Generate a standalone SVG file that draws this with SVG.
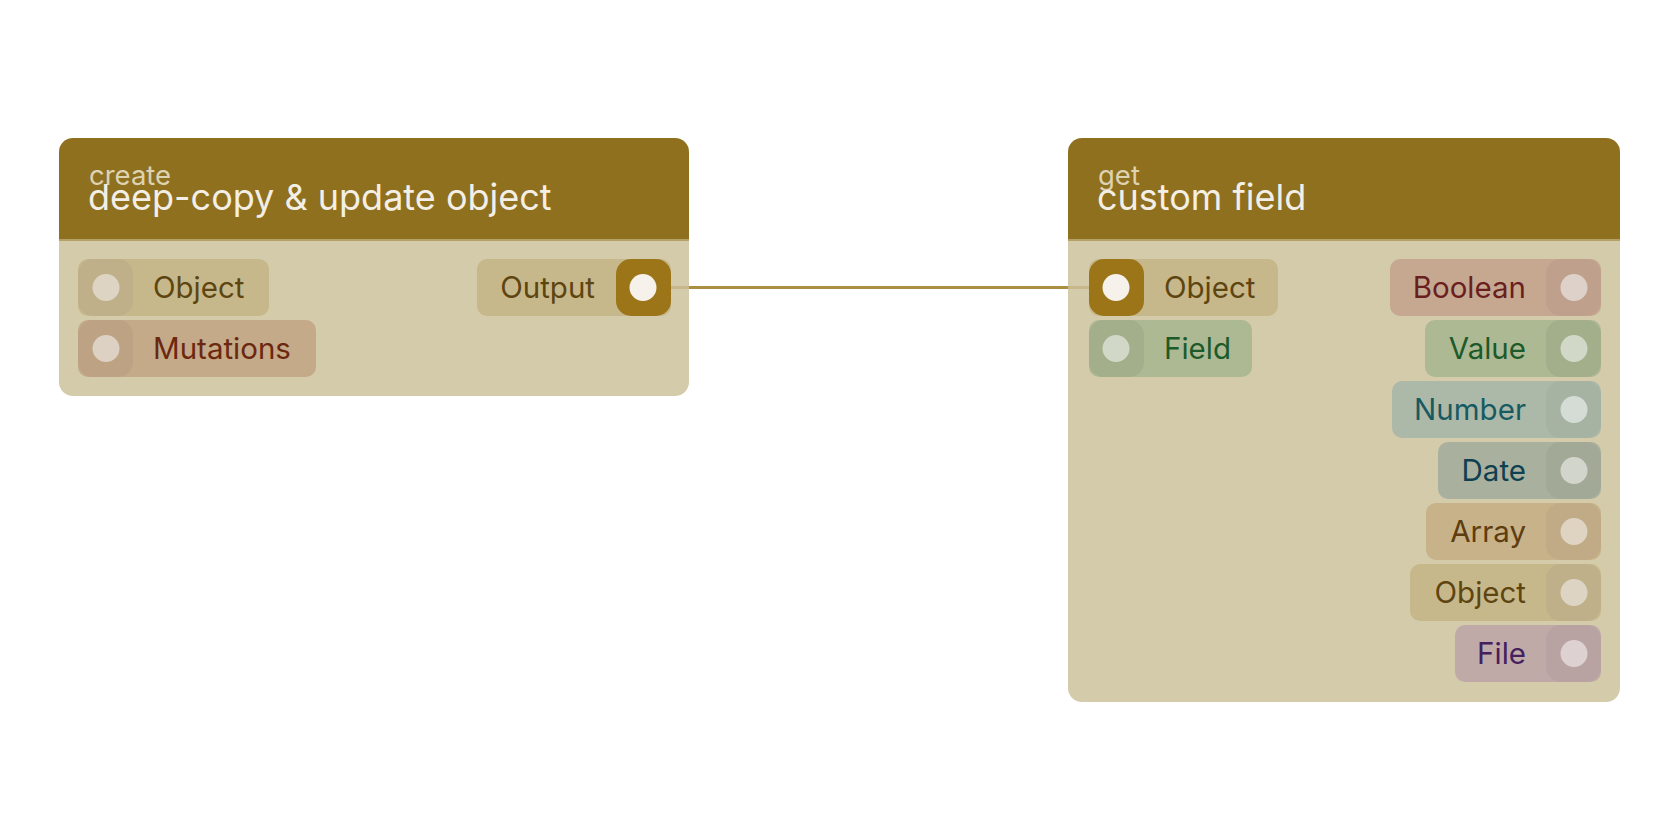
<svg xmlns="http://www.w3.org/2000/svg" width="1680" height="840" viewBox="0 0 1680 840">
<style>
.hdr{fill:#8f701e}
.body{fill:#d4cbab}
.sub{font-family:Inter,"Noto Sans",sans-serif;font-size:27.5px;fill:#ddd2b2}
.ttl{font-family:Inter,"Noto Sans",sans-serif;font-size:36px;fill:#f3efe6}
.lbl{font-family:Inter,"Noto Sans",sans-serif;font-size:29.5px}
.pill{rx:10px;ry:10px}
.sock{rx:15px;ry:15px}
.end{text-anchor:end}
.obj .pill{fill:#c6b88b}.obj .sock{fill:#bfb08a}.obj circle{fill:#ddd4c4}.obj text{fill:#5e4510}
.mut .pill{fill:#c4aa88}.mut .sock{fill:#bda283}.mut circle{fill:#ddd1c3}.mut text{fill:#6b2710}
.con .sock{fill:#9c7519}.con circle{fill:#f6f1ea}
.fld .pill{fill:#adb993}.fld .sock{fill:#a3ae8a}.fld circle{fill:#d1d8c7}.fld text{fill:#1d5a2a}
.boo .pill{fill:#c6a891}.boo .sock{fill:#bfa08c}.boo circle{fill:#ded1c9}.boo text{fill:#6a1e1e}
.num .pill{fill:#adb9a8}.num .sock{fill:#a6b2a2}.num circle{fill:#d5dcd6}.num text{fill:#175a62}
.dat .pill{fill:#a9b09d}.dat .sock{fill:#a2a996}.dat circle{fill:#d1d5cc}.dat text{fill:#0f4050}
.arr .pill{fill:#c7b289}.arr .sock{fill:#c0ab86}.arr circle{fill:#dfd3c1}.arr text{fill:#5e3d0e}
.fil .pill{fill:#bfaaa8}.fil .sock{fill:#b8a2a2}.fil circle{fill:#ddd1d1}.fil text{fill:#45205e}
</style>
<rect width="1680" height="840" fill="#ffffff"/>
<g id="node-create">
<path class="body" d="M59 240H689V382a14 14 0 0 1-14 14H73a14 14 0 0 1-14-14Z"/>
<path class="hdr" d="M73 138H675a14 14 0 0 1 14 14V240H59V152a14 14 0 0 1 14-14Z"/>
<rect x="59" y="239" width="630" height="2" fill="#b5a068"/>
<text class="sub" x="89" y="185">create</text>
<text class="ttl" x="88" y="210">deep-copy &amp; update object</text>
<g class="obj"><rect class="pill" x="78" y="259" width="191" height="57"/><rect class="sock" x="78" y="259" width="55" height="57"/><circle cx="106" cy="287.5" r="13.5"/><text class="lbl" x="153" y="298">Object</text></g>
<g class="mut"><rect class="pill" x="78" y="320" width="238" height="57"/><rect class="sock" x="78" y="320" width="55" height="57"/><circle cx="106" cy="348.5" r="13.5"/><text class="lbl" x="153" y="359">Mutations</text></g>
<g class="obj con"><rect class="pill" x="477" y="259" width="194" height="57"/><rect class="sock" x="616" y="259" width="55" height="57"/><circle cx="643" cy="287.5" r="13.5"/><text class="lbl end" x="595" y="298">Output</text></g>
</g>
<g id="node-get">
<path class="body" d="M1068 240H1620V688a14 14 0 0 1-14 14H1082a14 14 0 0 1-14-14Z"/>
<path class="hdr" d="M1082 138H1606a14 14 0 0 1 14 14V240H1068V152a14 14 0 0 1 14-14Z"/>
<rect x="1068" y="239" width="552" height="2" fill="#b5a068"/>
<text class="sub" x="1098" y="185">get</text>
<text class="ttl" x="1097" y="210">custom field</text>
<g class="obj con"><rect class="pill" x="1089" y="259" width="189" height="57"/><rect class="sock" x="1089" y="259" width="55" height="57"/><circle cx="1116" cy="287.5" r="13.5"/><text class="lbl" x="1164" y="298">Object</text></g>
<g class="fld"><rect class="pill" x="1089" y="320" width="163" height="57"/><rect class="sock" x="1089" y="320" width="55" height="57"/><circle cx="1116" cy="348.5" r="13.5"/><text class="lbl" x="1164" y="359">Field</text></g>
<g class="boo"><rect class="pill" x="1390" y="259" width="211" height="57"/><rect class="sock" x="1546" y="259" width="55" height="57"/><circle cx="1574" cy="287.5" r="13.5"/><text class="lbl end" x="1526" y="298">Boolean</text></g>
<g class="fld"><rect class="pill" x="1425" y="320" width="176" height="57"/><rect class="sock" x="1546" y="320" width="55" height="57"/><circle cx="1574" cy="348.5" r="13.5"/><text class="lbl end" x="1526" y="359">Value</text></g>
<g class="num"><rect class="pill" x="1392" y="381" width="209" height="57"/><rect class="sock" x="1546" y="381" width="55" height="57"/><circle cx="1574" cy="409.5" r="13.5"/><text class="lbl end" x="1526" y="420">Number</text></g>
<g class="dat"><rect class="pill" x="1438" y="442" width="163" height="57"/><rect class="sock" x="1546" y="442" width="55" height="57"/><circle cx="1574" cy="470.5" r="13.5"/><text class="lbl end" x="1526" y="481">Date</text></g>
<g class="arr"><rect class="pill" x="1426" y="503" width="175" height="57"/><rect class="sock" x="1546" y="503" width="55" height="57"/><circle cx="1574" cy="531.5" r="13.5"/><text class="lbl end" x="1526" y="542">Array</text></g>
<g class="obj"><rect class="pill" x="1410" y="564" width="191" height="57"/><rect class="sock" x="1546" y="564" width="55" height="57"/><circle cx="1574" cy="592.5" r="13.5"/><text class="lbl end" x="1526" y="603">Object</text></g>
<g class="fil"><rect class="pill" x="1455" y="625" width="146" height="57"/><rect class="sock" x="1546" y="625" width="55" height="57"/><circle cx="1574" cy="653.5" r="13.5"/><text class="lbl end" x="1526" y="664">File</text></g>
</g>
<g id="connectors" fill="none" stroke-width="3">
<path d="M689 287.5H1068" stroke="#aa8f40"/>
<path d="M671 287.5H689M1068 287.5H1089" stroke="#c6b88b"/>
</g>
</svg>
